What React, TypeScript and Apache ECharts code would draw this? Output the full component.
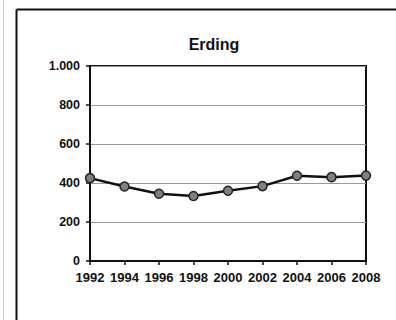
import React, { useEffect, useRef } from "react";
import * as echarts from "echarts";

const years = ["1992", "1994", "1996", "1998", "2000", "2002", "2004", "2006", "2008"];
const values = [425, 382, 345, 333, 360, 384, 437, 430, 438];
const chartTitle = "Erding";

const FONT = "'Liberation Sans', Arial, sans-serif";

export default function App() {
  const ref = useRef<HTMLDivElement>(null);
  useEffect(() => {
    if (!ref.current) return;
    const chart = echarts.init(ref.current, null, { renderer: "svg" });
    chart.setOption({
      animation: false,
      backgroundColor: "#ffffff",
      graphic: [
        { type: "line", shape: { x1: 3.5, y1: 0, x2: 3.5, y2: 320 }, style: { stroke: "#c8c8c8", lineWidth: 1 } },
        { type: "line", shape: { x1: 16.5, y1: 9.5, x2: 16.5, y2: 320 }, style: { stroke: "#111", lineWidth: 2 } },
        { type: "line", shape: { x1: 16.5, y1: 9.5, x2: 396, y2: 9.5 }, style: { stroke: "#111", lineWidth: 2 } },
        {
          type: "text",
          x: 214,
          y: 36,
          style: {
            text: chartTitle,
            align: "center",
            verticalAlign: "top",
            fontFamily: FONT,
            fontWeight: "bold",
            fontSize: 16,
            fill: "#111",
          },
        },
      ],
      grid: {
        left: 90,
        right: 30,
        top: 66,
        bottom: 59,
        show: true,
        borderColor: "#111",
        borderWidth: 2,
        backgroundColor: "transparent",
      },
      xAxis: {
        type: "category",
        data: years,
        boundaryGap: false,
        axisLine: { lineStyle: { color: "#111", width: 2 } },
        axisTick: { show: true, length: 4, interval: 0, lineStyle: { color: "#111", width: 1.5 } },
        axisLabel: {
          interval: 0,
          margin: 10,
          fontFamily: FONT,
          fontWeight: "bold",
          fontSize: 13,
          color: "#111",
        },
        splitLine: { show: false },
      },
      yAxis: {
        type: "value",
        min: 0,
        max: 1000,
        interval: 200,
        axisLine: { show: true, lineStyle: { color: "#111", width: 2 } },
        axisTick: { show: true, length: 4, lineStyle: { color: "#111", width: 1.5 } },
        axisLabel: {
          margin: 10,
          fontFamily: FONT,
          fontWeight: "bold",
          fontSize: 12.5,
          color: "#111",
          formatter: (v: number) => (v >= 1000 ? "1.000" : String(v)),
        },
        splitLine: { show: true, lineStyle: { color: "#999", width: 1.2 } },
      },
      series: [
        {
          type: "line",
          data: values,
          symbol: "circle",
          symbolSize: 9,
          lineStyle: { color: "#111", width: 2.5 },
          itemStyle: { color: "#808080", borderColor: "#222", borderWidth: 1.5 },
        },
      ],
    });
    return () => chart.dispose();
  }, []);
  return (
    <div
      ref={ref}
      style={{ position: "fixed", left: 0, top: 0, width: 396, height: 320 }}
    />
  );
}
